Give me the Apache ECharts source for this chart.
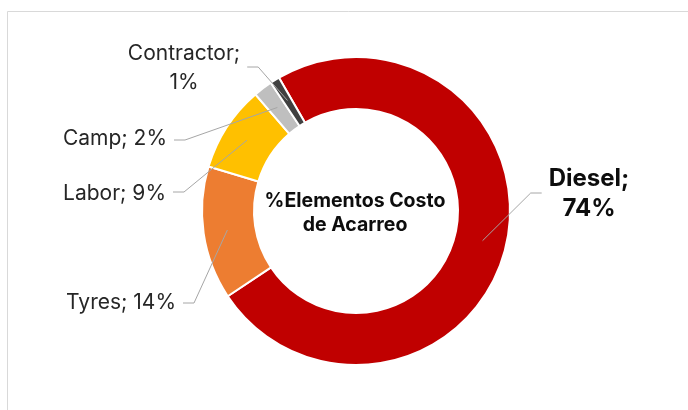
<!DOCTYPE html>
<html><head><meta charset="utf-8">
<script src="https://cdn.jsdelivr.net/npm/echarts@6/dist/echarts.min.js"></script>
<style>html,body{margin:0;padding:0;background:#fff}#c{width:688px;height:410px}</style>
</head><body><div id="c"></div>
<script>
// ---- data ----
const categories = ['Diesel', 'Tyres', 'Labor', 'Camp', 'Contractor'];
const shares = [74, 14, 9, 2, 1];
const sliceColors = ['#C00000', '#ED7D31', '#FFC000', '#BFBFBF', '#404040'];
const centerTitle = '%Elementos Costo\nde Acarreo';

// ---- layout (label anchors, not data) ----
const labelPlace = [
  {x: 589, y: 194, align: 'center', side: -1, dy: -1},  // Diesel
  {x: 176, y: 303, align: 'right', side: 1, dy: 0},     // Tyres
  {x: 166, y: 194, align: 'right', side: 1, dy: -2},    // Labor
  {x: 167, y: 139, align: 'right', side: 1, dy: 1},     // Camp
  {x: 184, y: 68, align: 'center', side: 1, dy: -1}     // Contractor
];

const FONT = 'Inter, "Noto Sans", sans-serif';
const chart = echarts.init(document.getElementById('c'), null, {renderer: 'canvas'});
const cx = 356, cy = 211;

const donutData = categories.map((c, i) => ({name: c, value: shares[i], itemStyle: {color: sliceColors[i]}}));
const labelData = categories.map((c, i) => {
  const big = c === 'Diesel';
  return {
    name: c, value: shares[i],
    label: big ? {fontSize: 24, fontWeight: 'bold', color: '#0d0d0d', lineHeight: 30,
                  formatter: '{b};\n{c}%'}
         : (c === 'Contractor' ? {formatter: '{b};\n{c}%', lineHeight: 29} : {formatter: '{b}; {c}%'})
  };
});

chart.setOption({
  animation: false,
  backgroundColor: '#ffffff',
  graphic: [
    {type: 'rect', shape: {x: 7.5, y: 11.5, width: 700, height: 420}, style: {fill: 'none', stroke: '#d9d9d9', lineWidth: 1}, silent: true},
    {type: 'text', x: 355, y: 213, style: {text: centerTitle, font: 'bold 19.5px ' + FONT, fill: '#0d0d0d',
      align: 'center', verticalAlign: 'middle', lineHeight: 24}, z: 10}
  ],
  series: [
    {
      type: 'pie', center: [cx, cy], radius: [102, 154], startAngle: 120, clockwise: true,
      silent: true, label: {show: false}, labelLine: {show: false},
      itemStyle: {borderColor: '#ffffff', borderWidth: 2},
      emphasis: {disabled: true},
      data: donutData
    },
    {
      type: 'pie', center: [cx, cy], radius: [0, 130], startAngle: 120, clockwise: true,
      silent: true, avoidLabelOverlap: false, z: 5,
      itemStyle: {color: 'rgba(0,0,0,0)', borderWidth: 0},
      emphasis: {disabled: true},
      label: {show: true, position: 'outside', fontFamily: FONT, fontSize: 21, color: '#262626'},
      labelLine: {show: true, length: 10, length2: 10, smooth: false, lineStyle: {color: '#a6a6a6', width: 1}},
      labelLayout: function (p) {
        const L = labelPlace[p.dataIndex];
        const w = p.labelRect.width;
        let edge;
        if (L.align === 'center') edge = L.side < 0 ? L.x - w / 2 : L.x + w / 2;
        else edge = L.x;
        const ly = L.y + L.dy;
        const endX = edge + L.side * 7;
        const kinkX = endX + L.side * 11;
        const start = p.labelLinePoints ? p.labelLinePoints[0] : [endX, ly];
        return {
          x: L.x, y: L.y, align: L.align, verticalAlign: 'middle', hideOverlap: false,
          labelLinePoints: [start, [kinkX, ly], [endX, ly]]
        };
      },
      data: labelData
    }
  ]
});
</script></body></html>
